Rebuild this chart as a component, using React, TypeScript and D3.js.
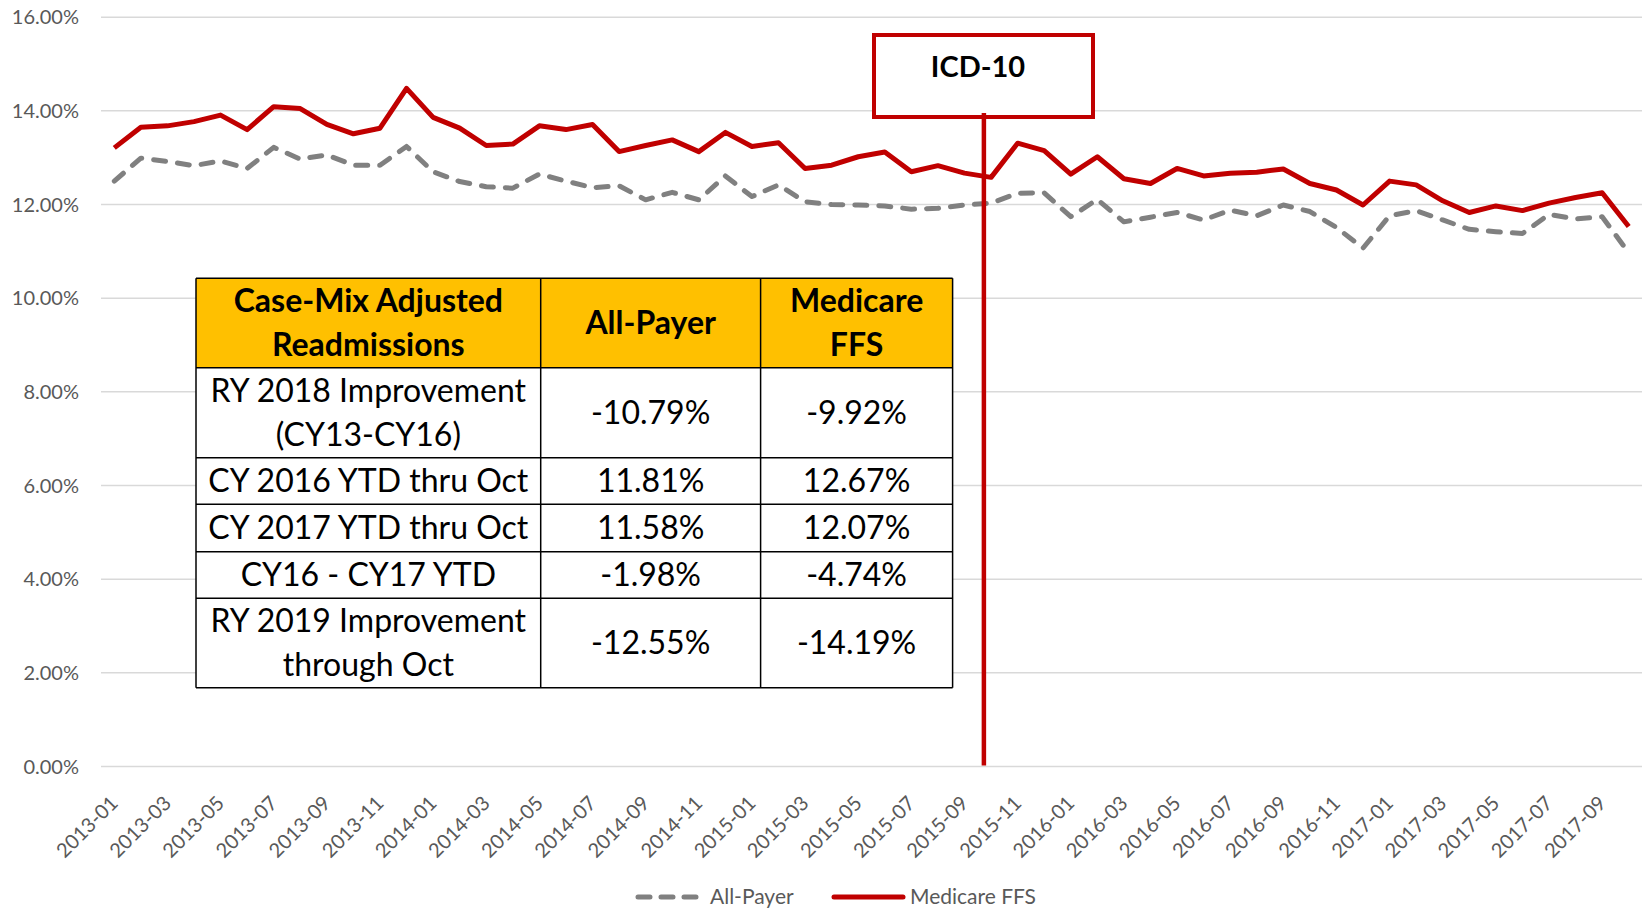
import React, { useRef, useEffect } from "react";
import * as d3 from "d3";

// months 2013-01 .. 2017-10
const months: string[] = [];
for (let yr = 2013; yr <= 2017; yr++) {
  for (let m = 1; m <= 12; m++) {
    if (yr === 2017 && m > 10) break;
    months.push(`${yr}-${String(m).padStart(2, "0")}`);
  }
}

const allPayer = [
  12.50, 12.99, 12.92, 12.83, 12.93, 12.77, 13.22, 12.97, 13.06, 12.84, 12.84, 13.24,
  12.70, 12.49, 12.38, 12.35, 12.65, 12.50, 12.36, 12.40, 12.10, 12.26, 12.10, 12.61,
  12.17, 12.42, 12.06, 12.00, 11.99, 11.97, 11.90, 11.92, 11.99, 12.03, 12.24, 12.25,
  11.74, 12.11, 11.63, 11.73, 11.83, 11.67, 11.88, 11.76, 11.99, 11.85, 11.51, 11.07,
  11.76, 11.87, 11.67, 11.47, 11.42, 11.38, 11.79, 11.69, 11.74, 10.97,
];

const medicareFFS = [
  13.21, 13.65, 13.68, 13.77, 13.91, 13.60, 14.09, 14.05, 13.71, 13.51, 13.63, 14.48,
  13.86, 13.63, 13.26, 13.29, 13.68, 13.60, 13.71, 13.13, 13.26, 13.38, 13.13, 13.54,
  13.24, 13.32, 12.77, 12.84, 13.02, 13.12, 12.70, 12.83, 12.67, 12.58, 13.31, 13.15,
  12.65, 13.02, 12.55, 12.45, 12.77, 12.61, 12.67, 12.69, 12.76, 12.45, 12.31, 11.99,
  12.50, 12.42, 12.08, 11.83, 11.97, 11.87, 12.03, 12.15, 12.25, 11.53,
];

const yTicks = [0, 2, 4, 6, 8, 10, 12, 14, 16];

// ICD-10 marker sits between 2015-09 and 2015-10 (index position)
const icdIndex = 32.73;
const icdLabel = "ICD-10";

const tableHeader = [["Case-Mix Adjusted", "Readmissions"], ["All-Payer"], ["Medicare", "FFS"]];
const tableLabels = [
  ["RY 2018 Improvement", "(CY13-CY16)"],
  ["CY 2016 YTD thru Oct"],
  ["CY 2017 YTD thru Oct"],
  ["CY16 - CY17 YTD"],
  ["RY 2019 Improvement", "through Oct"],
];
const tableAllPayer = ["-10.79%", "11.81%", "11.58%", "-1.98%", "-12.55%"];
const tableMedicare = ["-9.92%", "12.67%", "12.07%", "-4.74%", "-14.19%"];

const RED = "#C00000";
const GRAY = "#808080";
const TXT = "#595959";

const App: React.FC = () => {
  const svgRef = useRef<SVGSVGElement | null>(null);

  useEffect(() => {
    const width = 1642;
    const height = 910;
    const left = 101, right = 1642, top = 17.2, bottom = 766.5;

    const svg = d3.select(svgRef.current);
    svg.selectAll("*").remove();
    svg.attr("width", width).attr("height", height);

    const x = d3.scaleBand<string>().domain(months).range([left, right]).paddingInner(0).paddingOuter(0);
    const cx = (m: string) => (x(m) as number) + x.bandwidth() / 2;
    const xIdx = d3.scaleLinear().domain([0, months.length - 1]).range([cx(months[0]), cx(months[months.length - 1])]);
    const y = d3.scaleLinear().domain([0, 16]).range([bottom, top]);

    const font = "Lato, 'Open Sans', sans-serif";

    // grid
    svg.append("g")
      .selectAll("line")
      .data(yTicks)
      .join("line")
      .attr("x1", left).attr("x2", right)
      .attr("y1", (d) => y(d)).attr("y2", (d) => y(d))
      .attr("stroke", "#D9D9D9")
      .attr("stroke-width", 1.5);

    // y labels
    svg.append("g")
      .selectAll("text")
      .data(yTicks)
      .join("text")
      .attr("x", left - 22)
      .attr("y", (d) => y(d))
      .attr("dy", "0.35em")
      .attr("text-anchor", "end")
      .attr("font-family", font)
      .attr("font-size", 20)
      .attr("fill", TXT)
      .text((d) => `${d.toFixed(2)}%`);

    // x labels
    svg.append("g")
      .selectAll("text")
      .data(months.filter((_, i) => i % 2 === 0))
      .join("text")
      .attr("transform", (d) => `translate(${cx(d)},${bottom + 33}) rotate(-45)`)
      .attr("dy", "0.35em")
      .attr("text-anchor", "end")
      .attr("font-family", font)
      .attr("font-size", 20)
      .attr("fill", TXT)
      .text((d) => d);

    const line = d3.line<number>()
      .x((_, i) => cx(months[i]))
      .y((d) => y(d));

    svg.append("path")
      .datum(allPayer)
      .attr("d", line)
      .attr("fill", "none")
      .attr("stroke", GRAY)
      .attr("stroke-width", 5)
      .attr("stroke-dasharray", "12 12")
      .attr("stroke-linecap", "round")
      .attr("stroke-linejoin", "round");

    svg.append("path")
      .datum(medicareFFS)
      .attr("d", line)
      .attr("fill", "none")
      .attr("stroke", RED)
      .attr("stroke-width", 5)
      .attr("stroke-linejoin", "round");

    // ===== table =====
    const colX = [196, 540.7, 760.6, 952.6];
    const rowY = [278.3, 367.7, 457.7, 504.3, 551.7, 598.3, 687.7];
    const tbl = svg.append("g").attr("font-family", font).attr("font-size", 32).attr("fill", "#000");

    tbl.append("rect")
      .attr("x", colX[0]).attr("y", rowY[0])
      .attr("width", colX[3] - colX[0]).attr("height", rowY[1] - rowY[0])
      .attr("fill", "#FFC000");
    tbl.append("rect")
      .attr("x", colX[0]).attr("y", rowY[1])
      .attr("width", colX[3] - colX[0]).attr("height", rowY[6] - rowY[1])
      .attr("fill", "#fff");

    const cellText = (lines: string[], c: number, r: number, bold: boolean) => {
      const mx = (colX[c] + colX[c + 1]) / 2;
      const my = (rowY[r] + rowY[r + 1]) / 2;
      const lh = 44;
      lines.forEach((t, k) => {
        tbl.append("text")
          .attr("x", mx)
          .attr("y", my + (k - (lines.length - 1) / 2) * lh)
          .attr("dy", "0.35em")
          .attr("text-anchor", "middle")
          .attr("font-weight", bold ? 700 : 400)
          .text(t);
      });
    };

    tableHeader.forEach((h, c) => cellText(h, c, 0, true));
    tableLabels.forEach((l, r) => {
      cellText(l, 0, r + 1, false);
      cellText([tableAllPayer[r]], 1, r + 1, false);
      cellText([tableMedicare[r]], 2, r + 1, false);
    });

    rowY.forEach((ry) => {
      tbl.append("line")
        .attr("x1", colX[0]).attr("x2", colX[3])
        .attr("y1", ry).attr("y2", ry)
        .attr("stroke", "#000").attr("stroke-width", 1.5);
    });
    colX.forEach((cxv) => {
      tbl.append("line")
        .attr("x1", cxv).attr("x2", cxv)
        .attr("y1", rowY[0]).attr("y2", rowY[6])
        .attr("stroke", "#000").attr("stroke-width", 1.5);
    });

    // ===== ICD-10 marker =====
    const ix = xIdx(icdIndex);
    svg.append("line")
      .attr("x1", ix).attr("x2", ix)
      .attr("y1", 112).attr("y2", bottom - 1)
      .attr("stroke", RED)
      .attr("stroke-width", 4.5);
    svg.append("rect")
      .attr("x", 874).attr("y", 35)
      .attr("width", 219).attr("height", 82)
      .attr("fill", "#fff")
      .attr("stroke", RED)
      .attr("stroke-width", 4);
    svg.append("line")
      .attr("x1", ix).attr("x2", ix)
      .attr("y1", 113).attr("y2", 119)
      .attr("stroke", RED)
      .attr("stroke-width", 4.5);
    svg.append("text")
      .attr("x", 978)
      .attr("y", 77)
      .attr("text-anchor", "middle")
      .attr("font-family", font)
      .attr("font-weight", 700)
      .attr("font-size", 29)
      .attr("fill", "#000")
      .text(icdLabel);

    // ===== legend =====
    const lg = svg.append("g").attr("font-family", font).attr("font-size", 21).attr("fill", TXT);
    const ly = 897;
    lg.append("line")
      .attr("x1", 638).attr("x2", 697)
      .attr("y1", ly).attr("y2", ly)
      .attr("stroke", GRAY).attr("stroke-width", 5)
      .attr("stroke-dasharray", "12 11").attr("stroke-linecap", "round");
    lg.append("text").attr("x", 710).attr("y", ly).attr("dy", "0.35em").text("All-Payer");
    lg.append("line")
      .attr("x1", 834).attr("x2", 903)
      .attr("y1", ly).attr("y2", ly)
      .attr("stroke", RED).attr("stroke-width", 5).attr("stroke-linecap", "round");
    lg.append("text").attr("x", 910).attr("y", ly).attr("dy", "0.35em").text("Medicare FFS");
  }, []);

  return (
    <div style={{ position: "absolute", left: 0, top: 0, background: "#fff" }}>
      <svg ref={svgRef} width={1642} height={910} style={{ display: "block" }} />
    </div>
  );
};

export default App;
